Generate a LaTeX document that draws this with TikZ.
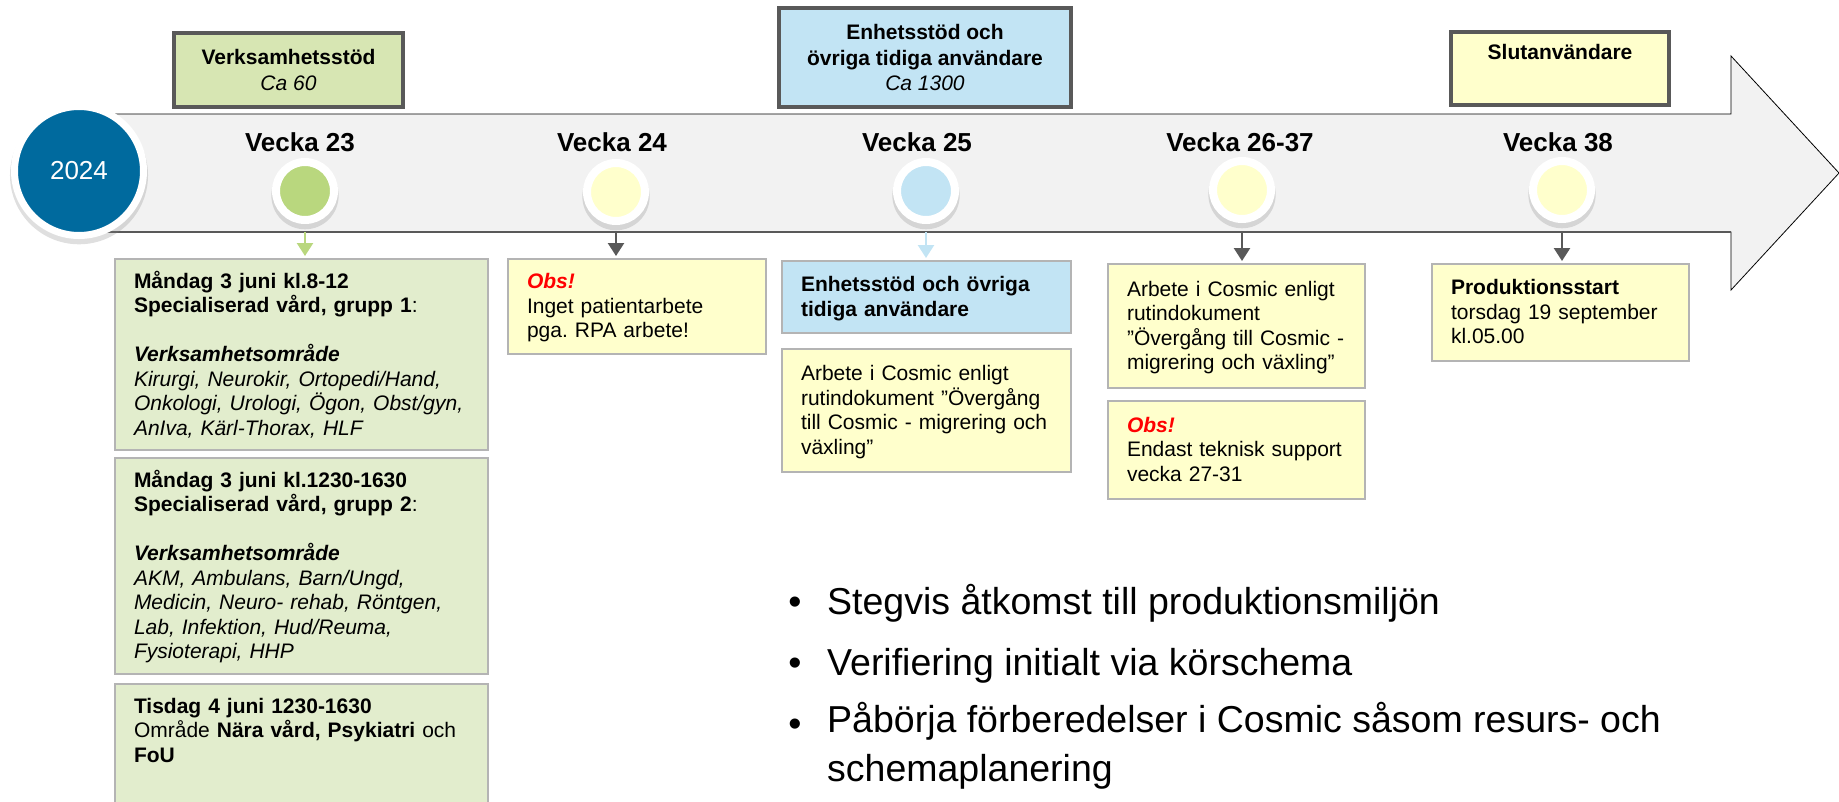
\documentclass[tikz,border=0pt]{standalone}
\usepackage{fontspec}
\setmainfont{Liberation Sans}
\usetikzlibrary{arrows.meta,shadows}

\definecolor{bandgray}{HTML}{F2F2F2}
\definecolor{yearblue}{HTML}{006A9E}
\definecolor{dotgreen}{HTML}{B9D77E}
\definecolor{topgreen}{HTML}{D7E6B3}
\definecolor{boxgreen}{HTML}{E2EDCD}
\definecolor{paleyellow}{HTML}{FFFFCC}
\definecolor{paleblue}{HTML}{C2E4F4}
\definecolor{darkline}{HTML}{595959}
\definecolor{boxline}{HTML}{B4B4B4}

\newcommand{\obsmark}{\textcolor{red}{\textbf{\textit{Obs!}}}}
\frenchspacing

\begin{document}
\begin{tikzpicture}[x=1pt,y=-1pt]
            \tikzset{
                year/.style={circle,fill=yearblue,draw=white,line width=7pt,minimum size=129pt,
                    text=white,font=\fontsize{26}{30}\selectfont,
                    drop shadow={shadow xshift=0pt,shadow yshift=-4pt,shadow scale=1.07,opacity=.25}},
                dot/.style={circle,draw=white,line width=8pt,minimum size=58pt,inner sep=0pt,
                    drop shadow={shadow xshift=0pt,shadow yshift=-4pt,shadow scale=1.16,opacity=.25}},
                week/.style={font=\fontsize{26}{30}\selectfont\bfseries},
                topbox/.style={draw=darkline,line width=3.3pt,align=center,inner sep=0pt,
                    font=\fontsize{21}{25.5}\selectfont\bfseries},
                infobox/.style={draw=boxline,line width=2pt,anchor=north west,align=left,
                    inner xsep=19pt,inner ysep=8pt,font=\fontsize{21}{24.5}\selectfont,
                    execute at begin node={\rule{0pt}{21pt}},execute at end node=\strut},
                edge/.style={-{Triangle[length=13pt,width=16pt]},line width=2.5pt,draw=darkline,
                    shorten <=8pt,shorten >=2pt},
                point/.style={anchor=north west,align=left,inner sep=0pt,
                    font=\fontsize{37.5}{49}\selectfont,execute at begin node=\strut}
            }
            \useasboundingbox (0,0) rectangle (1839,801);
            \clip (0,0) rectangle (1839,801);

            % timeline arrow
            \filldraw[fill=bandgray,draw=black,line width=0.8pt]
                (100,114) -- (1731,114) -- (1731,56) -- (1839,173)
                -- (1731,290) -- (1731,232) -- (100,232) -- cycle;
            \draw[darkline,line width=1.6pt] (100,232) -- (1731,232);

            % year and weeks
            \node[year] (yr) at (79,171) {2024};
            \node[week] (w23) at (300,142) {Vecka 23};
            \node[week] (w24) at (612,142) {Vecka 24};
            \node[week] (w25) at (917,142) {Vecka 25};
            \node[week] (w26) at (1240,142) {Vecka 26-37};
            \node[week] (w38) at (1558,142) {Vecka 38};

            \node[dot,fill=dotgreen] (c23) at (305,191) {};
            \node[dot,fill=paleyellow] (c24) at (616,192) {};
            \node[dot,fill=paleblue] (c25) at (926,191) {};
            \node[dot,fill=paleyellow] (c26) at (1242,190) {};
            \node[dot,fill=paleyellow] (c38) at (1562,190) {};

            % user groups
            \node[topbox,fill=topgreen,minimum width=229pt,minimum height=74pt] (t23) at (288.5,70)
                {Verksamhetsstöd\\{\mdseries\itshape Ca 60}};
            \node[topbox,fill=paleblue,minimum width=292pt,minimum height=99pt] (t25) at (925,57.5)
                {Enhetsstöd och\\övriga tidiga användare\\{\mdseries\itshape Ca 1300}};
            \node[topbox,fill=paleyellow,minimum width=218pt,minimum height=73pt] (t38) at (1560,68.5)
                {Slutanvändare\\\strut};

            % week boxes
            \node[infobox,fill=boxgreen,text width=335pt,minimum height=191pt] (b23a) at (114,258)
                {\textbf{Måndag 3 juni kl.8-12}\\
                 \textbf{Specialiserad vård, grupp 1}:\\[24.5pt]
                 \textbf{\textit{Verksamhetsområde}}\\
                 \textit{Kirurgi, Neurokir, Ortopedi/Hand,}\\
                 \textit{Onkologi, Urologi, Ögon, Obst/gyn,}\\
                 \textit{AnIva, Kärl-Thorax, HLF}};
            \node[infobox,fill=boxgreen,text width=335pt,minimum height=215pt] (b23b) at (114,457)
                {\textbf{Måndag 3 juni kl.1230-1630}\\
                 \textbf{Specialiserad vård, grupp 2}:\\[24.5pt]
                 \textbf{\textit{Verksamhetsområde}}\\
                 \textit{AKM, Ambulans, Barn/Ungd,}\\
                 \textit{Medicin, Neuro- rehab, Röntgen,}\\
                 \textit{Lab, Infektion, Hud/Reuma,}\\
                 \textit{Fysioterapi, HHP}};
            \node[infobox,fill=boxgreen,text width=335pt] (b23c) at (114,683)
                {\textbf{Tisdag 4 juni 1230-1630}\\
                 Område \textbf{Nära vård, Psykiatri} och\\
                 \textbf{FoU}\\[30pt]\strut};
            \node[infobox,fill=paleyellow,text width=220pt,minimum height=95pt] (b24) at (507,258)
                {\obsmark\\Inget patientarbete\\pga. RPA arbete!};
            \node[infobox,fill=paleblue,text width=251pt,minimum height=72pt] (b25a) at (781,260)
                {\textbf{Enhetsstöd och övriga}\\\textbf{tidiga användare}};
            \node[infobox,fill=paleyellow,text width=251pt,minimum height=123pt] (b25b) at (781,348)
                {Arbete i Cosmic enligt\\rutindokument ”Övergång\\till Cosmic - migrering och\\växling”};
            \node[infobox,fill=paleyellow,text width=219pt,minimum height=124pt] (b26a) at (1107,263)
                {Arbete i Cosmic enligt\\rutindokument\\”Övergång till Cosmic -\\migrering och växling”};
            \node[infobox,fill=paleyellow,text width=219pt,minimum height=98pt] (b26b) at (1107,400)
                {\obsmark\\Endast teknisk support\\vecka 27-31};
            \node[infobox,fill=paleyellow,text width=219pt,minimum height=97pt] (b38) at (1431,263)
                {\textbf{Produktionsstart}\\torsdag 19 september\\kl.05.00};

            %edges
            \draw[edge,draw=dotgreen] (c23) -- (c23 |- b23a.north);
            \draw[edge] (c24) -- (c24 |- b24.north);
            \draw[edge,draw=paleblue] (c25) -- (c25 |- b25a.north);
            \draw[edge] (c26) -- (c26 |- b26a.north);
            \draw[edge] (c38) -- (c38 |- b38.north);

            % bullet list
            \node[point] (p1) at (827,580) {Stegvis åtkomst till produktionsmiljön};
            \node[point] (p2) at (827,641) {Verifiering initialt via körschema};
            \node[point] (p3) at (827,702) {Påbörja förberedelser i Cosmic såsom resurs- och\\schemaplanering};
            \foreach \p in {p1,p2,p3}
                \node[point,anchor=base,execute at begin node={}] (\p dot)
                    at ([xshift=-32pt,yshift=-34.3pt]\p.north west) {•};
\end{tikzpicture}
\end{document}
